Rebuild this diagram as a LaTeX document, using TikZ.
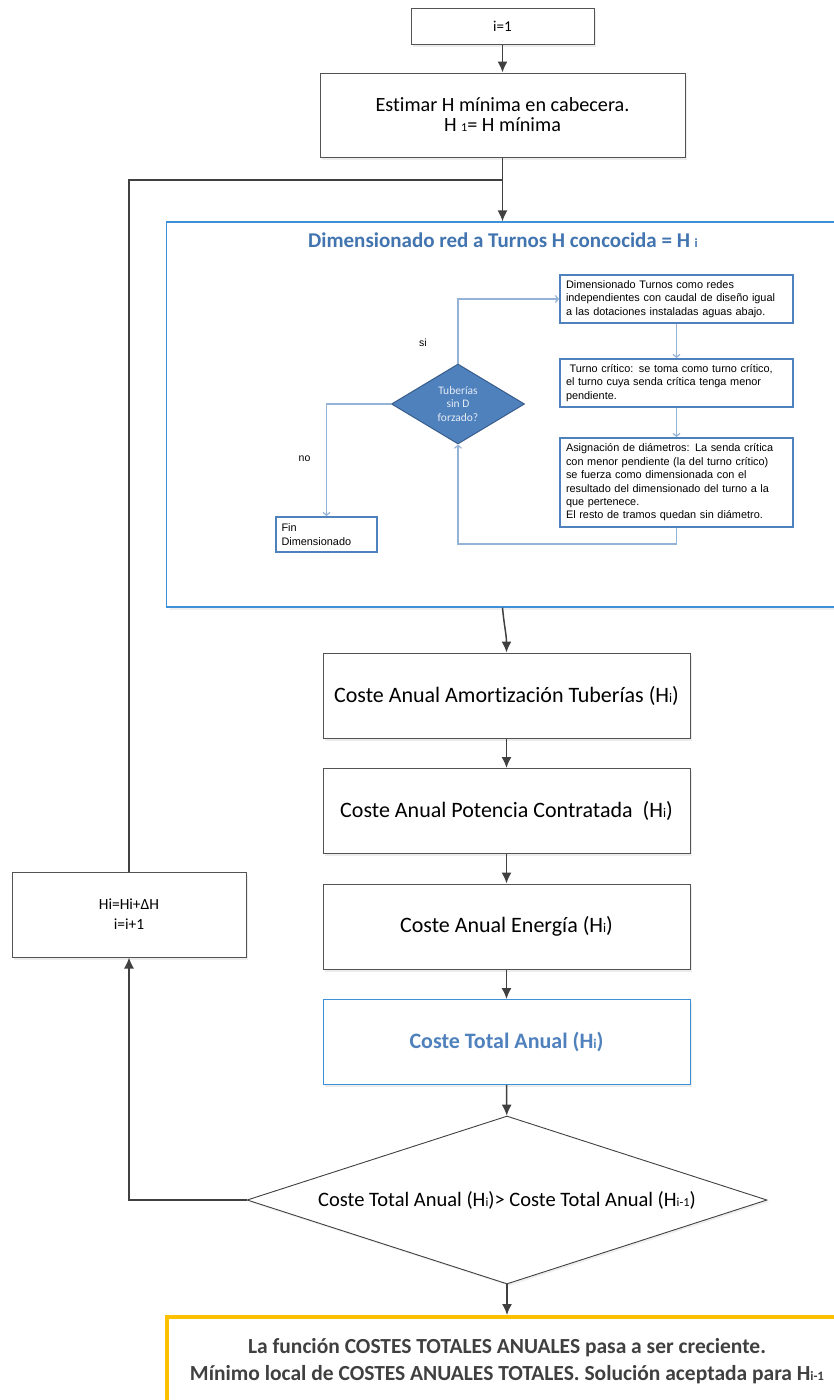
\documentclass[tikz,border=0pt]{standalone}
\usepackage{fontspec}
\setmainfont{Carlito}[Ligatures=NoCommon]
\newfontfamily\arialfont{Liberation Sans}
\usetikzlibrary{calc,shapes.geometric,arrows.meta,shadows}

\definecolor{linegray}{HTML}{404040}
\definecolor{frameblue}{HTML}{3D8FD8}
\definecolor{boxblue}{HTML}{4F81BD}
\definecolor{thinblue}{HTML}{95B3D7}
\definecolor{titleblue}{HTML}{4275B0}
\definecolor{darkblue}{HTML}{385D8A}
\definecolor{gold}{HTML}{FFC000}

\newcommand{\sm}[1]{\scalebox{0.6}{#1}}

\tikzset{
  plainbox/.style={rectangle, draw=linegray!90, line width=1pt, fill=white, inner sep=0pt,
    drop shadow={shadow xshift=2pt, shadow yshift=-2.5pt, fill=black!15}},
  costbox/.style={plainbox, minimum width=367pt, minimum height=85pt, font=\fontsize{22}{24}\selectfont},
  stepbox/.style={rectangle, draw=boxblue, line width=1.8pt, fill=white, inner sep=0pt,
    minimum width=233pt, text width=221pt, align=left, font=\arialfont\fontsize{10.9}{13.4}\selectfont},
  flow/.style={draw=linegray, line width=1.5pt, -{Latex[length=11pt,width=10pt]}},
  thinflow/.style={draw=thinblue, line width=1.2pt, -{Straight Barb[length=3pt,width=7pt]}},
  smalltext/.style={font=\arialfont\fontsize{10.5}{12}\selectfont}
}

\begin{document}
\begin{tikzpicture}[x=1pt, y=-1pt]
    \useasboundingbox (0,0) rectangle (834,1400);

    \node[plainbox, minimum width=183pt, minimum height=36pt, font=\fontsize{15}{17}\selectfont] (start) at (502.5,26) {i=1};

    \node[plainbox, minimum width=365pt, minimum height=84pt, align=center, font=\fontsize{20.2}{20}\selectfont] (est) at (502.5,115) {Estimar H mínima en cabecera.\\H \sm{1}= H mínima};

    \coordinate (join) at (502.5,180);

    \node[rectangle, draw=frameblue, line width=1.2pt, fill=white, minimum width=733.5pt, minimum height=385pt,
      drop shadow={shadow xshift=3pt, shadow yshift=-3pt, fill=black!12}] (dim) at (533.25,414.5) {};
    \node[text=titleblue, font=\bfseries\fontsize{21}{22}\selectfont] (dimtitle) at (503,240) {Dimensionado red a Turnos H concocida = H \sm{i}};

    \node[stepbox, minimum height=48pt] (b1) at (676.5,299) {Dimensionado Turnos como redes\\independientes con caudal de diseño igual\\a las dotaciones instaladas aguas abajo.};
    \node[stepbox, minimum height=48pt] (b2) at (676.5,383) {\ Turno crítico: se toma como turno crítico,\\el turno cuya senda crítica tenga menor\\pendiente.};
    \node[stepbox, minimum height=89pt] (b3) at (676.5,482.5) {Asignación de diámetros: La senda crítica\\con menor pendiente (la del turno crítico)\\se fuerza como dimensionada con el\\resultado del dimensionado del turno a la\\que pertenece.\\El resto de tramos quedan sin diámetro.};

    \node[diamond, shape aspect=1.66, draw=darkblue, line width=1pt, fill=boxblue, inner sep=0pt, minimum width=133pt, minimum height=80pt,
      align=center, text=white!85!boxblue, font=\fontsize{11.5}{13.5}\selectfont] (dec) at (458,404) {Tuberías\\sin D\\forzado?};

    \node[stepbox, minimum width=101pt, minimum height=35pt, text width=90pt] (fin) at (326.5,534.5) {Fin\\Dimensionado};

    \node[smalltext] (si) at (423,343) {si};
    \node[smalltext] (no) at (304.5,459) {no};

    \node[costbox] (c1) at (506.5,695.5) {Coste Anual Amortización Tuberías (H\sm{i})};
    \node[costbox] (c2) at (506.5,811) {Coste Anual Potencia Contratada\ \ (H\sm{i})};
    \node[costbox] (c3) at (506.5,926.5) {Coste Anual Energía (H\sm{i})};
    \node[costbox, draw=frameblue, text=boxblue, font=\bfseries\fontsize{22}{24}\selectfont] (ctot) at (506.5,1042) {Coste Total Anual (H\sm{i})};

    \node[plainbox, minimum width=234pt, minimum height=85pt, align=center, font=\fontsize{15.5}{20}\selectfont] (upd) at (129,914.5) {Hi=Hi+ΔH\\i=i+1};

    \node[diamond, shape aspect=3.1, draw=linegray, line width=0.9pt, fill=white, inner sep=0pt, minimum width=520pt, minimum height=168pt,
      font=\fontsize{20.5}{22}\selectfont,
      drop shadow={shadow xshift=2pt, shadow yshift=-2pt, fill=black!12}] (cmp) at (507,1200) {Coste Total Anual (H\sm{i})> Coste Total Anual (H\sm{i-1})};

    \node[rectangle, draw=gold, line width=4pt, fill=white, minimum width=681pt, minimum height=110pt] (endbox) at (507,1372) {};
    \node[align=center, text=linegray, font=\bfseries\fontsize{21.5}{27}\selectfont] (endtext) at (507,1361.5) {La función COSTES TOTALES ANUALES pasa a ser creciente.\\Mínimo local de COSTES ANUALES TOTALES. Solución aceptada para H\sm{i-1}};

    \draw[flow] (start) -- (est);
    \draw[line width=1.5pt, draw=linegray] (est.south) -- (join);
    \draw[line width=1.5pt, draw=linegray] (upd.north) |- (join);
    \draw[flow] (join) -- (join |- dim.north);
    \draw[flow] (join |- dim.south) to[out=-85, in=90] (c1.north);
    \draw[flow] (c1) -- (c2);
    \draw[flow] (c2) -- (c3);
    \draw[flow] (c3) -- (ctot);
    \draw[flow] (ctot) -- (cmp);
    \draw[flow] (cmp.west) -| (upd.south);
    \draw[flow] (cmp.south) -- (endbox.north);

    \draw[thinflow] (dec.north) |- (b1.west);
    \draw[thinflow] (b1) -- (b2);
    \draw[thinflow] (b2) -- (b3);
    \draw[thinflow] (b3.south) -- ++(0,16) -| (dec.south);
    \draw[thinflow] (dec.west) -| (fin.north);
\end{tikzpicture}
\end{document}
